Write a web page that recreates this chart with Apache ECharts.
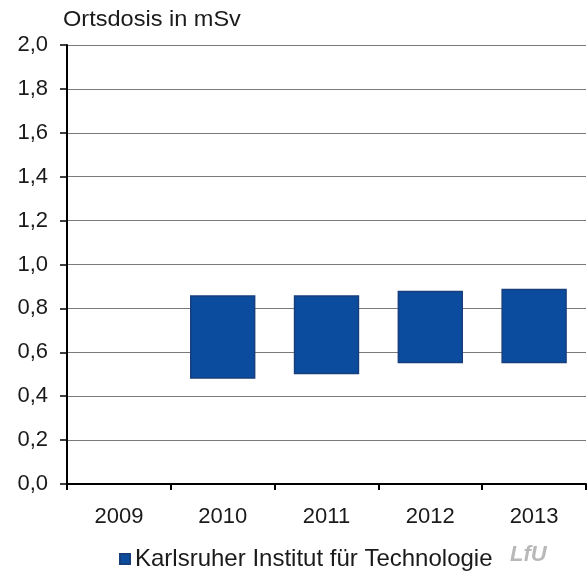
<!DOCTYPE html>
<html>
<head>
<meta charset="utf-8">
<script src="https://cdn.jsdelivr.net/npm/echarts@6/dist/echarts.min.js"></script>
<style>
  html, body { margin: 0; padding: 0; background: #fff; }
  #chart { width: 587px; height: 573px; }
</style>
</head>
<body>
<div id="chart"></div>
<script>
// Jahre und Spannweite der Ortsdosis (mSv) je Jahr
const years = ['2009', '2010', '2011', '2012', '2013'];
const doseLow = [null, 0.48, 0.50, 0.55, 0.55];
const doseHigh = [null, 0.86, 0.86, 0.88, 0.89];
const yTicks = [0, 0.2, 0.4, 0.6, 0.8, 1.0, 1.2, 1.4, 1.6, 1.8, 2.0];
const seriesName = 'Karlsruher Institut für Technologie';

const FONT = '"Liberation Sans", Arial, sans-serif';
const TEXT = '#1a1a1a';

// Floating bars: transparent base up to the minimum, visible part spans min..max
const spanValues = doseHigh.map((h, i) =>
  (h == null || doseLow[i] == null) ? null : +(h - doseLow[i]).toFixed(3));

const chart = echarts.init(document.getElementById('chart'));
chart.setOption({
  animation: false,
  backgroundColor: '#ffffff',
  textStyle: { fontFamily: FONT },
  grid: { left: 67, right: 1, top: 45, bottom: 89, containLabel: false },
  graphic: [
    {
      type: 'text', x: 63, y: 9, scaleX: 1.07,
      style: { text: 'Ortsdosis in mSv', font: '22px ' + FONT, fill: TEXT }
    },
    {
      type: 'text', left: 510, top: 544,
      style: { text: 'LfU', font: 'italic bold 22px ' + FONT, fill: '#b8b8b8' }
    }
  ],
  legend: {
    data: [seriesName],
    left: 114, top: 542,
    icon: 'rect', itemWidth: 10, itemHeight: 10, itemGap: 5,
    textStyle: { fontSize: 24, color: TEXT, fontFamily: FONT }
  },
  xAxis: {
    type: 'category',
    data: years,
    boundaryGap: true,
    axisLine: { lineStyle: { color: '#000', width: 2 } },
    axisTick: { show: true, length: 6, lineStyle: { color: '#000', width: 2 } },
    axisLabel: { color: TEXT, fontSize: 22, margin: 22, fontFamily: FONT },
    splitLine: { show: false }
  },
  yAxis: {
    type: 'value',
    min: 0, max: 2, interval: 0.2,
    axisLine: { show: true, lineStyle: { color: '#000', width: 2 } },
    axisTick: { show: true, length: 7, lineStyle: { color: '#000', width: 1.5 } },
    axisLabel: {
      color: TEXT, fontSize: 22, margin: 19, fontFamily: FONT,
      customValues: yTicks,
      formatter: v => v.toFixed(1).replace('.', ',')
    },
    splitLine: { show: true, lineStyle: { color: '#7a7a7a', width: 1.2 } }
  },
  series: [
    {
      name: 'base',
      type: 'bar',
      stack: 'range',
      data: doseLow,
      barWidth: '63%',
      itemStyle: { color: 'transparent' },
      emphasis: { disabled: true },
      silent: true
    },
    {
      name: seriesName,
      type: 'bar',
      stack: 'range',
      data: spanValues,
      barWidth: '63%',
      itemStyle: { color: '#0b4c9e', borderColor: '#163f7c', borderWidth: 1.5 }
    }
  ]
});
</script>
</body>
</html>
